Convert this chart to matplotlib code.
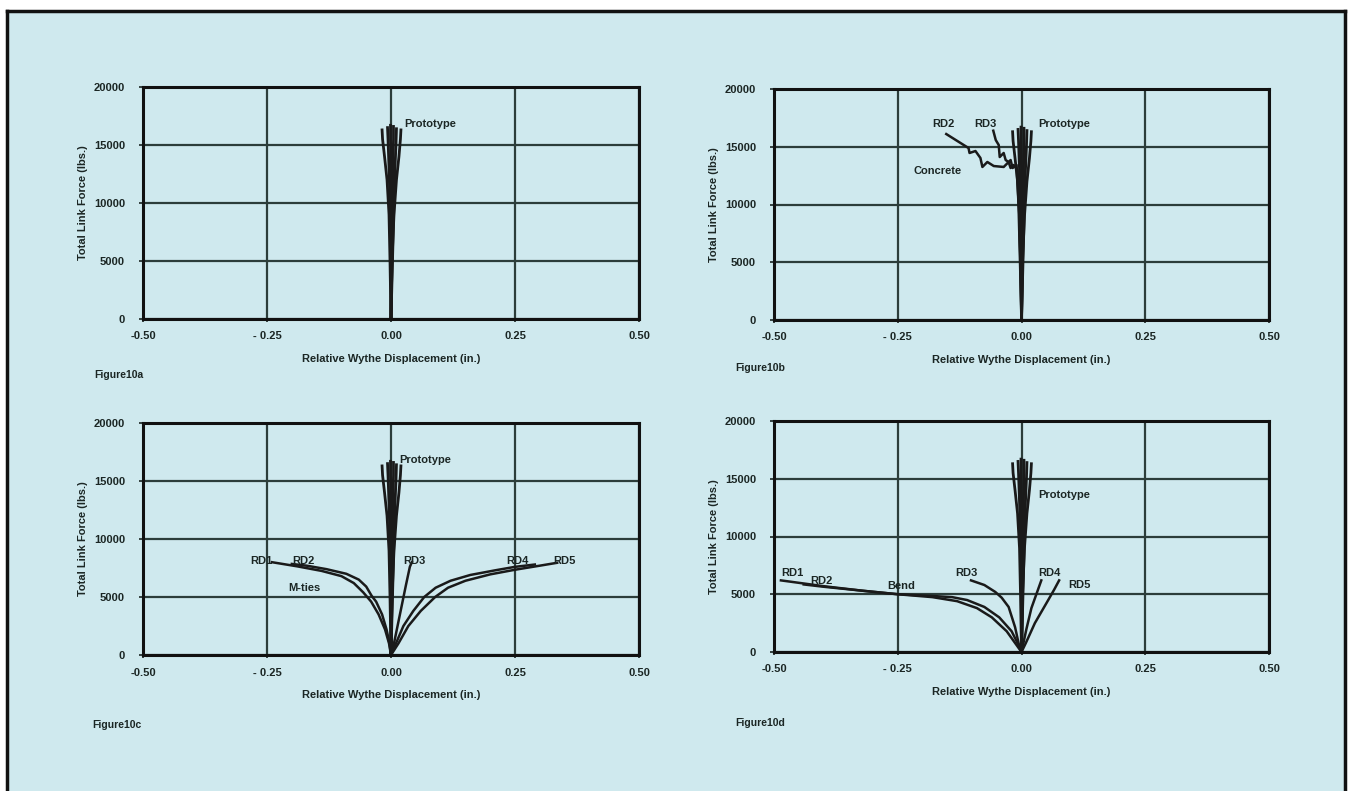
import matplotlib.pyplot as plt
from matplotlib.lines import Line2D
from matplotlib.patches import Rectangle

plt.rcParams['font.family'] = ['Liberation Sans', 'DejaVu Sans']
plt.rcParams['font.weight'] = 'bold'
plt.rcParams['axes.labelweight'] = 'bold'

BG = '#cfe9ee'
INK = '#1b2624'
GRID = '#2c3d3a'
LINE = '#1a1a1a'

# axes ticks
x_ticks = [-0.50, -0.25, 0.00, 0.25, 0.50]
x_tick_labels = ['-0.50', '- 0.25', '0.00', '0.25', '0.50']
y_ticks = [0, 5000, 10000, 15000, 20000]

# prototype strands, displacement (in.) / force (lbs.)
proto_x = [
    [0, -0.002, -0.004, -0.008, -0.013, -0.017, -0.018],
    [0, 0.000, -0.002, -0.004, -0.006, -0.007],
    [0, 0.001, 0.001, 0.000, -0.001, -0.001],
    [0, 0.002, 0.003, 0.004, 0.005, 0.005],
    [0, 0.003, 0.006, 0.008, 0.010, 0.011],
    [0, 0.002, 0.006, 0.011, 0.016, 0.019, 0.020],
]
proto_y = [
    [0, 5000, 9000, 12000, 14000, 15500, 16300],
    [0, 5000, 10000, 13000, 15500, 16500],
    [0, 5000, 10000, 13000, 15500, 16700],
    [0, 5000, 10000, 13000, 15500, 16600],
    [0, 5000, 10000, 13000, 15000, 16400],
    [0, 5000, 9000, 12000, 14000, 15500, 16300],
]

# concrete ties
conc_rd2_x = [0, -0.003, -0.006, -0.010, -0.018, -0.022, -0.028, -0.036, -0.056,
              -0.069, -0.079, -0.083, -0.093, -0.105, -0.107, -0.123, -0.152]
conc_rd2_y = [0, 5000, 10000, 13420, 13160, 13850, 13590, 13250, 13330,
              13680, 13250, 14030, 14630, 14460, 14890, 15320, 16100]
conc_rd3_x = [0, -0.002, -0.005, -0.008, -0.016, -0.022, -0.026, -0.032, -0.036,
              -0.044, -0.046, -0.052, -0.057]
conc_rd3_y = [0, 5000, 10000, 12990, 13420, 13160, 13680, 13850, 14460,
              14110, 15150, 15580, 16390]

# M-ties
mt_rd1_x = [0, -0.004, -0.012, -0.025, -0.040, -0.056, -0.075, -0.100, -0.140, -0.190, -0.240]
mt_rd1_y = [0, 1000, 2200, 3500, 4600, 5400, 6200, 6800, 7250, 7650, 8000]
mt_rd2_x = [0, -0.003, -0.009, -0.018, -0.030, -0.039, -0.050, -0.065, -0.090, -0.130, -0.170, -0.200]
mt_rd2_y = [0, 1000, 2200, 3500, 4600, 5100, 5900, 6500, 7000, 7400, 7700, 7850]
mt_rd3_x = [0, 0.006, 0.018, 0.030, 0.038, 0.042]
mt_rd3_y = [0, 1000, 3500, 6000, 7600, 8000]
mt_rd4_x = [0, 0.010, 0.025, 0.045, 0.067, 0.090, 0.120, 0.160, 0.210, 0.250, 0.290]
mt_rd4_y = [0, 1000, 2500, 3800, 5000, 5800, 6400, 6900, 7300, 7600, 7800]
mt_rd5_x = [0, 0.015, 0.035, 0.060, 0.089, 0.115, 0.150, 0.200, 0.250, 0.300, 0.335]
mt_rd5_y = [0, 1000, 2500, 3800, 5000, 5800, 6400, 6950, 7350, 7700, 7950]

# bend ties
bd_rd1_x = [0, -0.010, -0.030, -0.060, -0.090, -0.130, -0.180, -0.250, -0.320, -0.400, -0.486]
bd_rd1_y = [0, 600, 1800, 3000, 3800, 4400, 4750, 5000, 5300, 5700, 6200]
bd_rd2_x = [0, -0.006, -0.020, -0.045, -0.075, -0.110, -0.140, -0.180, -0.250, -0.320, -0.400, -0.440]
bd_rd2_y = [0, 600, 1800, 3000, 3900, 4500, 4750, 4850, 5000, 5300, 5650, 5850]
bd_rd3_x = [0, -0.004, -0.013, -0.026, -0.040, -0.053, -0.075, -0.102]
bd_rd3_y = [0, 400, 2150, 3900, 4700, 5200, 5800, 6200]
bd_rd4_x = [0, 0.004, 0.010, 0.020, 0.030, 0.040]
bd_rd4_y = [0, 800, 2000, 3800, 5000, 6200]
bd_rd5_x = [0, 0.009, 0.027, 0.054, 0.066, 0.076]
bd_rd5_y = [0, 800, 2500, 4500, 5400, 6200]

W, H = 1351, 791
fig = plt.figure(figsize=(W / 100, H / 100), dpi=100, facecolor='white')

# page background and frame
fig.add_artist(Rectangle((7 / W, 0), 1338 / W, 1 - 11 / H, transform=fig.transFigure,
                         facecolor=BG, edgecolor='none', zorder=0))
for xs, ys in [([7, 7], [0, H - 11]), ([1345, 1345], [0, H - 11]), ([7, 1345], [H - 11, H - 11])]:
    fig.add_artist(Line2D([x / W for x in xs], [y / H for y in ys], transform=fig.transFigure,
                          color='#111111', lw=2.5))


def make_axes(left, top, width, height):
    ax = fig.add_axes([left / W, 1 - (top + height) / H, width / W, height / H])
    ax.set_facecolor('none')
    ax.set_xlim(-0.5, 0.5)
    ax.set_ylim(0, 20000)
    ax.set_xticks(x_ticks)
    ax.set_xticklabels(x_tick_labels)
    ax.set_yticks(y_ticks)
    ax.grid(True, color=GRID, lw=1.6)
    ax.set_axisbelow(True)
    for s in ax.spines.values():
        s.set_color('#111111')
        s.set_linewidth(2.2)
    ax.tick_params(axis='x', length=2, width=1.2, pad=7, labelsize=8, colors=INK)
    ax.tick_params(axis='y', length=3, width=1.2, pad=10, labelsize=8, colors=INK)
    ax.set_xlabel('Relative Wythe Displacement (in.)', fontsize=8, color=INK, labelpad=9)
    ax.set_ylabel('Total Link Force (lbs.)', fontsize=8, color=INK, labelpad=4)
    for px, py in zip(proto_x, proto_y):
        ax.plot(px, py, color=LINE, lw=2.0)
    return ax


def lbl(ax, x, y, s):
    ax.text(x, y, s, fontsize=8, color=INK, ha='left', va='center')


# Figure 10a
ax_a = make_axes(143, 87, 496, 232)
lbl(ax_a, 0.026, 16800, 'Prototype')
fig.text(94 / W, 1 - 375 / H, 'Figure10a', fontsize=7.5, color=INK, va='center')

# Figure 10b
ax_b = make_axes(774, 89, 495, 231)
ax_b.plot(conc_rd2_x, conc_rd2_y, color=LINE, lw=1.8)
ax_b.plot(conc_rd3_x, conc_rd3_y, color=LINE, lw=1.8)
lbl(ax_b, -0.181, 16950, 'RD2')
lbl(ax_b, -0.096, 16950, 'RD3')
lbl(ax_b, 0.033, 16950, 'Prototype')
lbl(ax_b, -0.218, 12900, 'Concrete')
fig.text(735 / W, 1 - 368 / H, 'Figure10b', fontsize=7.5, color=INK, va='center')

# Figure 10c
ax_c = make_axes(143, 423, 496, 232)
for xs, ys in [(mt_rd1_x, mt_rd1_y), (mt_rd2_x, mt_rd2_y), (mt_rd3_x, mt_rd3_y),
               (mt_rd4_x, mt_rd4_y), (mt_rd5_x, mt_rd5_y)]:
    ax_c.plot(xs, ys, color=LINE, lw=1.8)
lbl(ax_c, -0.284, 8100, 'RD1')
lbl(ax_c, -0.2, 8100, 'RD2')
lbl(ax_c, 0.024, 8100, 'RD3')
lbl(ax_c, 0.233, 8100, 'RD4')
lbl(ax_c, 0.328, 8100, 'RD5')
lbl(ax_c, -0.208, 5780, 'M-ties')
lbl(ax_c, 0.017, 16800, 'Prototype')
fig.text(92 / W, 1 - 725 / H, 'Figure10c', fontsize=7.5, color=INK, va='center')

# Figure 10d
ax_d = make_axes(774, 421, 495, 231)
for xs, ys in [(bd_rd1_x, bd_rd1_y), (bd_rd2_x, bd_rd2_y), (bd_rd3_x, bd_rd3_y),
               (bd_rd4_x, bd_rd4_y), (bd_rd5_x, bd_rd5_y)]:
    ax_d.plot(xs, ys, color=LINE, lw=1.8)
lbl(ax_d, -0.486, 6850, 'RD1')
lbl(ax_d, -0.427, 6180, 'RD2')
lbl(ax_d, -0.272, 5710, 'Bend')
lbl(ax_d, -0.133, 6850, 'RD3')
lbl(ax_d, 0.034, 6850, 'RD4')
lbl(ax_d, 0.094, 5800, 'RD5')
lbl(ax_d, 0.034, 13630, 'Prototype')
fig.text(735 / W, 1 - 723 / H, 'Figure10d', fontsize=7.5, color=INK, va='center')

fig.savefig('out.png', dpi=100, facecolor=fig.get_facecolor())
